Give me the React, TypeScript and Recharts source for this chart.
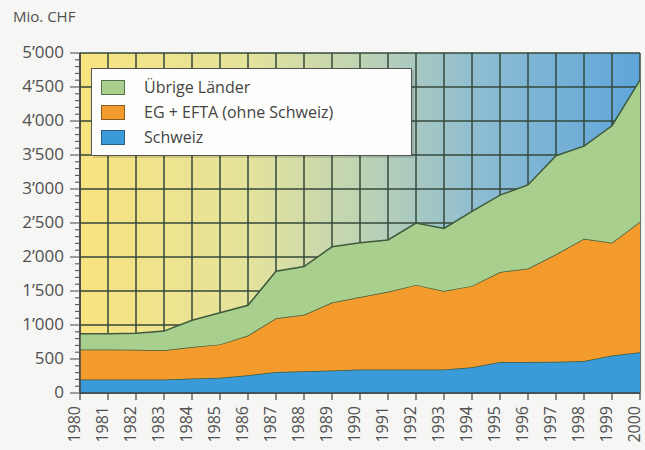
import { AreaChart, Area, XAxis, YAxis, CartesianGrid, Legend } from "recharts";

const years = ["1980", "1981", "1982", "1983", "1984", "1985", "1986", "1987", "1988", "1989", "1990", "1991", "1992", "1993", "1994", "1995", "1996", "1997", "1998", "1999", "2000"];
const schweiz = [200, 200, 200, 200, 215, 225, 260, 310, 320, 330, 345, 345, 345, 345, 380, 455, 455, 460, 470, 550, 600];
const egEfta = [440, 440, 435, 430, 460, 490, 585, 790, 830, 1000, 1065, 1145, 1245, 1155, 1195, 1325, 1375, 1580, 1800, 1660, 1920];
const uebrige = [230, 230, 245, 280, 395, 465, 445, 690, 710, 820, 800, 760, 910, 920, 1095, 1130, 1230, 1450, 1360, 1720, 2080];

const majorTicks = [0, 500, 1000, 1500, 2000, 2500, 3000, 3500, 4000, 4500, 5000];
const minorTicks = Array.from({ length: 51 }, (_, i) => i * 100);

// legend order is top-down, stack order is bottom-up
const series = [
  { key: "uebrige", name: "Übrige Länder", fill: "#a8cf8e", edge: "#55704a" },
  { key: "egEfta", name: "EG + EFTA (ohne Schweiz)", fill: "#f39b2d", edge: "#8a5a22" },
  { key: "schweiz", name: "Schweiz", fill: "#3b9bd9", edge: "#2a5f86" },
];

const data = years.map((year, i) => ({
  year,
  schweiz: schweiz[i],
  egEfta: egEfta[i],
  uebrige: uebrige[i],
}));

const font = "'Open Sans', sans-serif";
const textColor = "#505050";

const fmt = (v: number) => {
  if (v < 1000) return String(v);
  const s = String(v);
  return s.slice(0, s.length - 3) + "\u2019" + s.slice(-3);
};

const YTick = (props: any) => {
  const { x, y, payload } = props;
  const v = payload.value;
  const major = v % 500 === 0;
  return (
    <g>
      <line x1={x - (major ? 10 : 5)} x2={x} y1={y} y2={y} stroke="#555" strokeWidth={1.1} />
      {major && (
        <text x={x - 16} y={y} dy="0.3em" textAnchor="end" fontSize={17} fontFamily={font} fill={textColor}>
          {fmt(v)}
        </text>
      )}
    </g>
  );
};

const XTick = (props: any) => {
  const { x, y, payload } = props;
  return (
    <text
      x={x}
      y={y}
      transform={`rotate(-90 ${x} ${y})`}
      textAnchor="end"
      fontSize={16}
      fontFamily={font}
      fill={textColor}
    >
      {payload.value}
    </text>
  );
};

const LegendBox = () => (
  <div
    style={{
      width: 319,
      height: 86,
      background: "#fdfdfb",
      border: "1.5px solid #555",
      boxShadow: "2px 2px 0 rgba(0,0,0,0.12)",
      fontFamily: font,
      fontSize: 16,
      color: "#444",
      boxSizing: "content-box",
      position: "relative",
    }}
  >
    {series.map((s, i) => (
      <div key={s.key} style={{ position: "absolute", left: 9, top: 10 + i * 25, display: "flex", alignItems: "center" }}>
        <span
          style={{
            display: "inline-block",
            width: 22,
            height: 13,
            background: s.fill,
            border: `1.5px solid ${s.edge}`,
          }}
        />
        <span style={{ marginLeft: 19, lineHeight: "16px" }}>{s.name}</span>
      </div>
    ))}
  </div>
);

export default function App() {
  return (
    <div style={{ position: "absolute", left: 0, top: 0, width: 645, height: 450, background: "#f6f6f4", overflow: "hidden" }}>
      <div style={{ position: "absolute", left: 13, top: 6, fontFamily: font, fontSize: 15, color: textColor }}>Mio. CHF</div>
      <AreaChart width={645} height={450} data={data} margin={{ top: 53, right: 5, bottom: 0, left: 0 }}>
        <defs>
          <linearGradient id="bg" x1="0" y1="0" x2="1" y2="0">
            <stop offset="0%" stopColor="#f9e37f" />
            <stop offset="30%" stopColor="#e4e39c" />
            <stop offset="50%" stopColor="#bfd3b3" />
            <stop offset="72%" stopColor="#8cbcd2" />
            <stop offset="100%" stopColor="#5ea5da" />
          </linearGradient>
        </defs>
        <CartesianGrid fill="url(#bg)" stroke="#34493b" strokeWidth={1.5} horizontalValues={majorTicks} />
        <XAxis
          dataKey="year"
          height={57}
          interval={0}
          tickSize={7}
          tickMargin={6}
          tick={<XTick />}
          axisLine={{ stroke: "#444", strokeWidth: 1.5 }}
          tickLine={{ stroke: "#444", strokeWidth: 1.2 }}
        />
        <YAxis
          width={80}
          domain={[0, 5000]}
          ticks={minorTicks}
          interval={0}
          tickSize={0}
          tickMargin={0}
          tick={<YTick />}
          tickLine={false}
          axisLine={{ stroke: "#444", strokeWidth: 1.5 }}
        />
        {[...series].reverse().map((s) => (
          <Area
            key={s.key}
            type="linear"
            dataKey={s.key}
            name={s.name}
            stackId="1"
            fill={s.fill}
            fillOpacity={1}
            stroke="#3e5a3a"
            strokeWidth={1.5}
            isAnimationActive={false}
          />
        ))}
        <Legend
          layout="vertical"
          align="center"
          verticalAlign="middle"
          content={() => <LegendBox />}
          wrapperStyle={{ position: "absolute", left: 91, top: 68, width: "auto" }}
        />
      </AreaChart>
    </div>
  );
}
